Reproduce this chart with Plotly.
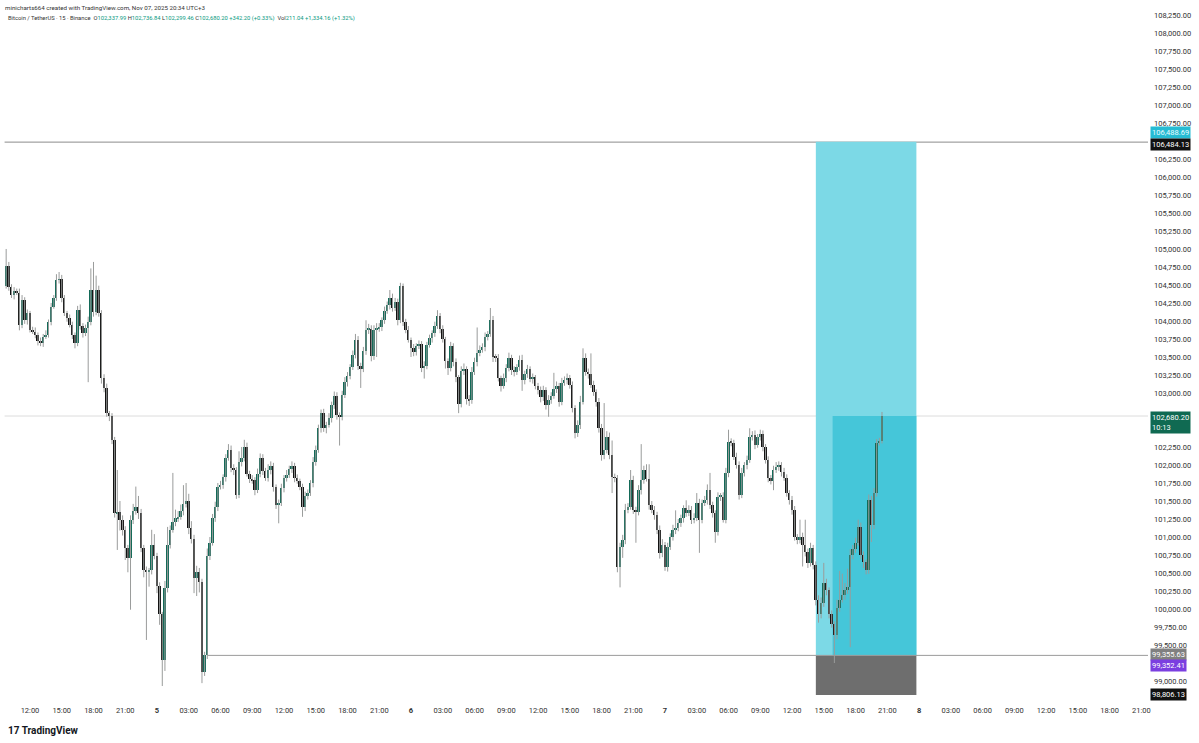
import plotly.graph_objects as go
import pandas as pd

# BTCUSDT 15m candles, Nov 4 09:45 -> Nov 7 20:30 (UTC+3)
start = "2025-11-04 09:45"
first_open = 104480

closes = [
    104760, 104470, 104360, 104420, 104390, 103940, 104290, 104010, 104110, 103880, 103850, 103810,
    103720, 103690, 103780, 103810, 103990, 104200, 104320, 104570, 104580, 104320, 104110, 104040,
    103950, 103810, 103690, 104150, 103930, 103830, 103900, 103990, 104430, 104120, 104430, 104110,
    103210, 103070, 102720, 102680, 102350, 101330, 101350, 101240, 101100, 100850, 100710, 101240,
    101360, 101420, 101330, 100850, 100540, 100510, 100540, 100890, 100740, 100320, 99930, 99290,
    100290, 100890, 101100, 101210, 101260, 101280, 101360, 101460, 101500, 101120, 100970, 100430,
    100510, 100380, 99130, 99355.63, 100740, 100920, 101260, 101420, 101700, 101720, 101830, 102100,
    102210, 101960, 101930, 101580, 102040, 102100, 102250, 101880, 101810, 101790, 101650, 101880,
    102100, 101920, 101820, 101930, 101990, 101700, 101440, 101470, 101680, 101820, 101860, 101940,
    101990, 101820, 101780, 101700, 101420, 101570, 101610, 101750, 102040, 102210, 102510, 102720,
    102510, 102560, 102650, 102830, 102960, 102690, 102670, 102970, 103150, 103240, 103360, 103530,
    103740, 103380, 103330, 103580, 103880, 103890, 103510, 103880, 103890, 103920, 104010, 104140,
    104220, 104320, 104180, 104260, 104010, 104490, 103990, 103880, 103740, 103620, 103570, 103650,
    103680, 103350, 103380, 103670, 103760, 103830, 103930, 104070, 103890, 103750, 103440, 103350,
    103650, 103430, 103220, 102850, 103310, 103330, 102920, 102900, 103290, 103430, 103560, 103600,
    103640, 103780, 103820, 104010, 103500, 103490, 103210, 103100, 103210, 103350, 103490, 103320,
    103290, 103360, 103460, 103180, 103260, 103330, 103190, 103220, 103100, 103040, 102940, 103040,
    102830, 102900, 102960, 103060, 103100, 102880, 103140, 103180, 103210, 103110, 102790, 102440,
    102560, 102880, 103490, 103290, 103260, 103110, 103010, 102880, 102510, 102140, 102210, 102390,
    102140, 101830, 101820, 100580, 100860, 100960, 101380, 101420, 101790, 101380, 101350, 101650,
    101790, 101930, 101810, 101440, 101380, 101310, 101100, 100780, 100890, 100580, 100860, 101000,
    101100, 101120, 101190, 101260, 101400, 101330, 101380, 101240, 101260, 101470, 101240, 101470,
    101510, 101650, 101440, 101330, 101070, 101560, 101560, 101240, 101890, 102320, 102310, 102110,
    102000, 101580, 101890, 102000, 102070, 102390, 102420, 102280, 102390, 102430, 102250, 102070,
    101820, 101780, 101930, 101970, 102000, 101900, 101820, 101610, 101510, 101380, 101000, 100960,
    101000, 100890, 100790, 100640, 100850, 100610, 100130, 99930, 100080, 100360, 100260, 99930,
    99790, 99640, 100010, 100130, 100190, 100260, 100310, 100750, 100830, 100920, 101140, 100750,
    100650, 100540, 101510, 101170, 101610, 102310, 102337.99, 102680.20,
]

# wick length above / below the candle body, USD
wick_up = [
    240, 60, 40, 50, 30, 60, 70, 40, 50, 30, 40, 60,
    30, 50, 40, 60, 30, 50, 40, 80, 100, 60, 40, 30,
    50, 40, 30, 60, 80, 40, 50, 70, 300, 390, 200, 60,
    40, 50, 60, 30, 40, 40, 580, 150, 60, 50, 40, 60,
    100, 280, 150, 60, 40, 50, 30, 210, 150, 40, 50, 30,
    100, 250, 60, 680, 120, 80, 90, 260, 250, 100, 100, 60,
    90, 60, 40, 50, 100, 80, 60, 70, 50, 60, 40, 50,
    80, 60, 50, 40, 150, 150, 100, 60, 40, 50, 40, 70,
    60, 50, 40, 80, 60, 40, 30, 50, 60, 40, 70, 50,
    60, 40, 50, 30, 40, 60, 50, 40, 70, 60, 50, 50,
    60, 40, 70, 50, 60, 50, 40, 60, 70, 50, 40, 60,
    80, 50, 40, 60, 130, 70, 50, 60, 80, 50, 40, 60,
    50, 110, 60, 60, 50, 40, 30, 40, 50, 30, 60, 40,
    50, 40, 60, 40, 50, 40, 60, 80, 40, 50, 30, 40,
    60, 40, 50, 30, 60, 80, 40, 50, 70, 60, 350, 60,
    50, 60, 40, 170, 60, 40, 50, 30, 60, 50, 70, 40,
    50, 40, 60, 70, 50, 60, 40, 50, 30, 40, 50, 60,
    40, 70, 50, 220, 60, 40, 70, 50, 60, 40, 50, 40,
    60, 80, 130, 60, 50, 290, 60, 40, 50, 60, 650, 80,
    60, 200, 50, 40, 60, 70, 80, 50, 140, 60, 40, 70,
    500, 60, 80, 200, 60, 50, 40, 60, 80, 40, 60, 50,
    70, 250, 60, 50, 40, 110, 60, 50, 70, 140, 60, 50,
    60, 80, 240, 50, 40, 60, 50, 60, 70, 170, 50, 40,
    60, 50, 70, 40, 60, 120, 50, 60, 40, 60, 50, 40,
    50, 40, 60, 70, 50, 40, 60, 50, 40, 60, 50, 40,
    240, 60, 350, 50, 70, 40, 50, 60, 80, 280, 60, 40,
    50, 40, 120, 400, 300, 100, 250, 80, 60, 70, 100, 60,
    50, 40, 80, 60, 70, 50, 40, 56.64,
]
wick_dn = [
    30, 50, 40, 60, 30, 70, 40, 50, 60, 40, 30, 50,
    60, 40, 50, 30, 40, 50, 30, 40, 50, 60, 40, 50,
    40, 60, 70, 40, 50, 60, 40, 750, 50, 60, 40, 50,
    80, 60, 50, 70, 60, 60, 510, 150, 80, 170, 200, 720,
    60, 50, 80, 60, 100, 940, 200, 60, 50, 100, 150, 360,
    150, 60, 50, 40, 60, 50, 40, 60, 50, 80, 60, 210,
    250, 150, 160, 60, 50, 60, 40, 50, 60, 40, 50, 60,
    40, 60, 70, 50, 40, 60, 50, 40, 60, 50, 70, 40,
    50, 60, 40, 50, 60, 70, 50, 250, 40, 60, 50, 40,
    50, 60, 40, 50, 140, 60, 50, 40, 60, 50, 40, 60,
    50, 70, 40, 60, 50, 60, 400, 50, 40, 60, 50, 40,
    50, 60, 260, 40, 50, 60, 70, 50, 380, 40, 60, 50,
    40, 60, 50, 40, 70, 40, 60, 50, 40, 120, 60, 50,
    40, 60, 150, 50, 40, 60, 50, 40, 60, 50, 100, 100,
    50, 60, 70, 130, 50, 60, 80, 80, 50, 40, 60, 50,
    40, 60, 50, 40, 70, 60, 50, 80, 40, 60, 50, 70,
    60, 40, 50, 150, 60, 50, 40, 60, 50, 60, 70, 50,
    60, 160, 50, 40, 60, 70, 50, 40, 60, 50, 60, 70,
    50, 60, 40, 50, 60, 40, 50, 70, 60, 80, 60, 50,
    60, 220, 60, 70, 280, 150, 60, 50, 40, 60, 430, 50,
    60, 50, 40, 60, 50, 70, 60, 80, 60, 50, 60, 40,
    50, 60, 40, 50, 60, 50, 40, 60, 50, 40, 460, 50,
    40, 60, 50, 60, 150, 50, 60, 40, 50, 60, 50, 40,
    50, 60, 40, 50, 60, 40, 50, 60, 40, 50, 60, 50,
    60, 50, 130, 40, 50, 60, 40, 50, 60, 70, 50, 60,
    50, 300, 60, 70, 50, 60, 80, 120, 60, 50, 70, 60,
    50, 390, 60, 50, 40, 60, 50, 840, 60, 50, 40, 60,
    80, 60, 50, 240, 60, 50, 40, 38.53,
]

# price axis labels that are not covered by the price tags
price_ticks = [
    108250, 108000, 107750, 107500, 107250, 107000, 106750, 106250, 106000, 105750,
    105500, 105250, 105000, 104750, 104500, 104250, 104000, 103750, 103500, 103250,
    103000, 102250, 102000, 101750, 101500, 101250, 101000, 100750, 100500, 100250,
    100000, 99750, 99500, 99000,
]

# drawings
level_top = 106484.13
level_low = 99355.63
level_low_from = "2025-11-05 04:45"
entry_price = 99352.41
target_price = 106488.69
stop_price = 98806.13
tool_from = "2025-11-07 14:15"
tool_to = "2025-11-07 23:45"
entry_time = "2025-11-07 15:50"
countdown = "10:13"
change = "+342.20 (+0.33%)"
volume = "211.04"
volume_chg = "+1,334.16 (+1.32%)"

times = pd.date_range(start, periods=len(closes), freq="15min")
opens = [first_open] + closes[:-1]
highs = [max(o, c) + w for o, c, w in zip(opens, closes, wick_up)]
lows = [min(o, c) - w for o, c, w in zip(opens, closes, wick_dn)]

UP = "#136a58"
DOWN = "#121212"
FONT = "Roboto, Liberation Sans, sans-serif"

wx, wy = [], []
for t, h, l in zip(times, highs, lows):
    wx += [t, t, None]
    wy += [l, h, None]

fig = go.Figure()
fig.add_trace(go.Scatter(x=wx, y=wy, mode="lines", line=dict(color="#9a9c9b", width=1),
                         hoverinfo="skip", showlegend=False))
fig.add_trace(go.Bar(
    x=times,
    base=[min(o, c) for o, c in zip(opens, closes)],
    y=[max(abs(c - o), 12) for o, c in zip(opens, closes)],
    width=15 * 60 * 1000 * 0.74,
    marker=dict(color=[UP if c >= o else DOWN for o, c in zip(opens, closes)], line=dict(width=0)),
    showlegend=False,
))

last = closes[-1]
shapes = [
    dict(type="rect", xref="x", yref="y", x0=tool_from, x1=tool_to, y0=entry_price, y1=target_price,
         fillcolor="#7cd9e6", line_width=0, layer="below"),
    dict(type="rect", xref="x", yref="y", x0=entry_time, x1=tool_to, y0=entry_price, y1=last,
         fillcolor="#45c6d9", line_width=0, layer="below"),
    dict(type="rect", xref="x", yref="y", x0=tool_from, x1=tool_to, y0=stop_price, y1=entry_price,
         fillcolor="#6e6e6e", line_width=0, layer="below"),
    dict(type="line", xref="paper", yref="y", x0=0.004, x1=1, y0=last, y1=last,
         line=dict(color="#dcdcdc", width=1), layer="below"),
    dict(type="line", xref="paper", yref="y", x0=0.004, x1=1, y0=level_top, y1=level_top,
         line=dict(color="#8c8c8c", width=1), layer="below"),
    dict(type="line", xref="x", yref="y", x0=level_low_from, x1="2025-11-08 21:38", y0=level_low, y1=level_low,
         line=dict(color="#9a9a9a", width=1), layer="below"),
]


def price_tag(price, text, bg, fg="white", anchor="middle", shift=0):
    return dict(xref="paper", yref="y", x=1, y=price, xanchor="left", yanchor=anchor, yshift=shift,
                xshift=2, text=text, showarrow=False, bgcolor=bg, borderpad=1, align="left",
                font=dict(family=FONT, size=7.5, color=fg))


annotations = [
    price_tag(target_price, f"{target_price:,.2f}", "#26bcd3", fg="#e9fbff", shift=9),
    price_tag(level_top, f"{level_top:,.2f}", "#111111", shift=-2),
    price_tag(last, f"{last:,.2f}<br>{countdown}", "#106a52", anchor="top", shift=5),
    price_tag(level_low, f"{level_low:,.2f}", "#808080", shift=1),
    price_tag(entry_price, f"{entry_price:,.2f}", "#7b3fe0", shift=-10),
    price_tag(stop_price, f"{stop_price:,.2f}", "#111111", shift=0),
]

g = "#089981"
o_, h_, l_, c_ = opens[-1], highs[-1], lows[-1], closes[-1]
header2 = (
    "Bitcoin / TetherUS · 15 · Binance  "
    f"O<span style='color:{g}'>{o_:,.2f}</span> H<span style='color:{g}'>{h_:,.2f}</span> "
    f"L<span style='color:{g}'>{l_:,.2f}</span> C<span style='color:{g}'>{c_:,.2f}</span> "
    f"<span style='color:{g}'>{change}</span>  "
    f"Vol<span style='color:{g}'>{volume}</span> <span style='color:{g}'>{volume_chg}</span>"
)
annotations += [
    dict(xref="paper", yref="paper", x=0.003, y=1, yshift=-2, xanchor="left", yanchor="top",
         text="minicharts664 created with TradingView.com, Nov 07, 2025 20:34 UTC+3",
         showarrow=False, font=dict(family=FONT, size=6.2, color="#333")),
    dict(xref="paper", yref="paper", x=0.005, y=1, yshift=-13, xanchor="left", yanchor="top",
         text=header2, showarrow=False, font=dict(family=FONT, size=5.8, color="#333")),
    dict(xref="paper", yref="paper", x=0.005, y=-0.043, xanchor="left", yanchor="middle",
         text="<b>17 TradingView</b>", showarrow=False,
         font=dict(family=FONT, size=10, color="#131722")),
]

tick_times = pd.date_range("2025-11-04 12:00", "2025-11-08 21:00", freq="3h")
tick_text = [f"<b>{t.day}</b>" if t.hour == 0 else t.strftime("%H:%M") for t in tick_times]

fig.update_layout(
    width=1199,
    height=743,
    margin=dict(l=0, r=51, t=0, b=43),
    paper_bgcolor="white",
    plot_bgcolor="white",
    bargap=0,
    shapes=shapes,
    annotations=annotations,
    xaxis=dict(type="date", range=["2025-11-04 09:10", "2025-11-08 21:38"],
               tickvals=tick_times, ticktext=tick_text, showgrid=False, zeroline=False,
               showline=False, ticks="", ticklabelstandoff=4,
               tickfont=dict(family=FONT, size=7.5, color="#333"), rangeslider_visible=False),
    yaxis=dict(side="right", range=[98736, 108458], tickvals=price_ticks, tickformat=",.2f",
               showgrid=False, zeroline=False, showline=False, ticks="", ticklabelstandoff=5,
               tickfont=dict(family=FONT, size=7.5, color="#333")),
)

# the page body has a default 8px margin; drop it so the figure sits at the top-left corner
fig.write_html("out.html", config={"displayModeBar": False},
               post_script="document.body.style.margin='0';")
